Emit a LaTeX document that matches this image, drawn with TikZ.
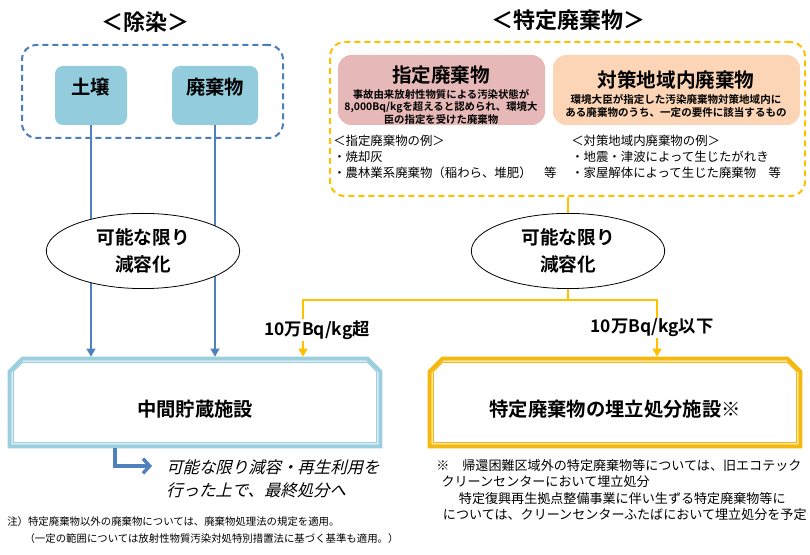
\documentclass[tikz,border=0pt]{standalone}
\usepackage{fontspec}
\setmainfont{Noto Sans CJK JP}[BoldFont={Noto Sans CJK JP Bold}]
\newfontfamily\slantjp{Noto Sans CJK JP}[FakeSlant=0.25]
\usetikzlibrary{shapes.geometric, fit, arrows.meta}
\definecolor{dashblue}{HTML}{4A7EBB}
\definecolor{boxblue}{HTML}{93CDDD}
\definecolor{arrowblue}{HTML}{4F81BD}
\definecolor{facblue}{HTML}{9BCFE0}
\definecolor{gold}{HTML}{FFC000}
\definecolor{facgold}{HTML}{F5B80F}
\definecolor{pinkfill}{HTML}{E6B9B8}
\definecolor{peachfill}{HTML}{FBD5B5}
\newcommand{\facpath}[2]{([xshift=#2,yshift=-11pt]#1.north west) -- ([xshift=11pt,yshift=-#2]#1.north west) -- ([xshift=-11pt,yshift=-#2]#1.north east) -- ([xshift=-#2,yshift=-11pt]#1.north east) -- ([xshift=-#2,yshift=#2]#1.south east) -- ([xshift=#2,yshift=#2]#1.south west) -- cycle}

\begin{document}
\begin{tikzpicture}[x=0.75pt, y=-0.75pt,
    title/.style={font=\bfseries\fontsize{16.5}{20}\selectfont},
    groupbox/.style={draw, dash pattern=on 4.5pt off 3pt, line width=1.5pt, rounded corners=11pt, inner sep=0},
    itembox/.style={fill=boxblue, rounded corners=6pt, inner sep=0, font=\bfseries\fontsize{14.5}{17}\selectfont},
    wastebox/.style={rounded corners=10pt, inner sep=0},
    headtext/.style={font=\bfseries\fontsize{14.7}{17}\selectfont},
    desctext/.style={align=center, inner sep=0, font=\bfseries\fontsize{7.8}{9.3}\selectfont},
    exampletext/.style={anchor=north west, align=left, inner sep=0, font=\fontsize{9.3}{12}\selectfont},
    reduce/.style={ellipse, draw, line width=0.6pt, fill=white, minimum width=145pt, minimum height=50pt, align=center, font=\bfseries\fontsize{14}{20}\selectfont},
    facility/.style={inner sep=0},
    factext/.style={font=\bfseries\fontsize{14.5}{17}\selectfont},
    bluearrow/.style={draw=arrowblue, line width=2pt, -{Triangle[length=6pt,width=6.5pt]}},
    yline/.style={draw=gold, line width=1.9pt},
    yarrow/.style={yline, -{Triangle[length=6pt,width=6.5pt]}},
    splitlabel/.style={fill=white, inner sep=1pt, font=\bfseries\fontsize{13}{15}\selectfont},
    bendarrow/.style={draw=arrowblue, line width=2.6pt, -{Straight Barb[length=5pt,width=11pt]}},
    notetext/.style={anchor=north west, align=left, inner sep=0}]
\useasboundingbox (0,0) rectangle (810,555);

\node[title] (jtitle) at (145,22) {＜除染＞};
\node[groupbox, draw=dashblue, fit={(22,45) (283,138)}] (jgroup) {};
\node[itembox, fit={(55,66) (127,125)}] (soil) {土壌};
\node[itembox, fit={(172,66) (258,125)}] (jwaste) {廃棄物};

\node[title] (stitle) at (568,20) {＜特定廃棄物＞};
\node[groupbox, draw=gold, fit={(330,42) (805,196)}] (sgroup) {};
\node[wastebox, fill=pinkfill, fit={(338,55) (545,125)}] (desig) {};
\node[headtext] (desighead) at (441,75) {指定廃棄物};
\node[desctext] (desigdesc) at (441,107) {事故由来放射性物質による汚染状態が\\8,000Bq/kgを超えると認められ、環境大\\臣の指定を受けた廃棄物};
\node[wastebox, fill=peachfill, fit={(553,55) (800,125)}] (area) {};
\node[headtext] (areahead) at (676,80) {対策地域内廃棄物};
\node[desctext, font=\bfseries\fontsize{7.9}{9.8}\selectfont] (areadesc) at (676,106) {環境大臣が指定した汚染廃棄物対策地域内に\\ある廃棄物のうち、一定の要件に該当するもの};
\node[exampletext] (desigex) at (333,135) {＜指定廃棄物の例＞\\・焼却灰\\・農林業系廃棄物（稲わら、堆肥）　等};
\node[exampletext] (areaex) at (571,135) {＜対策地域内廃棄物の例＞\\・地震・津波によって生じたがれき\\・家屋解体によって生じた廃棄物　等};

\node[facility, fit={(8,357) (382,448)}] (midfac) {};
\node[facility, fit={(428,357) (802,448)}] (landfill) {};
\draw[draw=facblue, line width=3pt] \facpath{midfac}{1.5pt};
\draw[draw=facblue, line width=0.9pt] \facpath{midfac}{4.2pt};
\draw[draw=facgold, line width=3pt] \facpath{landfill}{1.5pt};
\draw[draw=facgold, line width=0.9pt] \facpath{landfill}{4.2pt};
\node[factext] (midtext) at ([yshift=-5pt]midfac.center) {中間貯蔵施設};
\node[factext] (landtext) at ([yshift=-5pt]landfill.center) {特定廃棄物の埋立処分施設※};

\draw[bluearrow] (soil.south) -- (soil.south |- midfac.north);
\draw[bluearrow] (jwaste.south) -- (jwaste.south |- midfac.north);
\node[reduce] (jreduce) at (143,251) {可能な限り\\減容化};

\node[reduce] (sreduce) at (568,251) {可能な限り\\減容化};
\coordinate (split) at (568,300);
\coordinate (overx) at (303,300);
\coordinate (underx) at (657,300);
\draw[yline] (sreduce |- sgroup.south) -- (sreduce.north);
\draw[yline] (sreduce.south) -- (split);
\draw[yarrow] (split) -| (overx |- midfac.north);
\draw[yarrow] (split) -| (underx |- landfill.north);
\node[splitlabel] (over) at (317,330) {10万Bq/kg超};
\node[splitlabel] (under) at (652,328) {10万Bq/kg以下};

\coordinate (bend) at (115,466);
\coordinate (recycle) at (152,466);
\draw[bendarrow] (bend |- midfac.south) -- (bend) -- (recycle);
\node[notetext, anchor=west, font=\slantjp\fontsize{12.3}{17.5}\selectfont] (finaltext) at (166,479) {可能な限り減容・再生利用を\\行った上で、最終処分へ};

\node[notetext, font=\fontsize{9.8}{12.4}\selectfont] (landnote) at (436,459) {※　帰還困難区域外の特定廃棄物等については、旧エコテック\\\hspace*{4pt}クリーンセンターにおいて埋立処分\\\hspace*{17pt}特定復興再生拠点整備事業に伴い生ずる特定廃棄物等に\\\hspace*{5pt}については、クリーンセンターふたばにおいて埋立処分を予定};
\node[notetext, font=\fontsize{7.8}{13}\selectfont] (lawnote) at (7,516) {注）特定廃棄物以外の廃棄物については、廃棄物処理法の規定を適用。\\\hspace*{13pt}（一定の範囲については放射性物質汚染対処特別措置法に基づく基準も適用。）};
\end{tikzpicture}
\end{document}
